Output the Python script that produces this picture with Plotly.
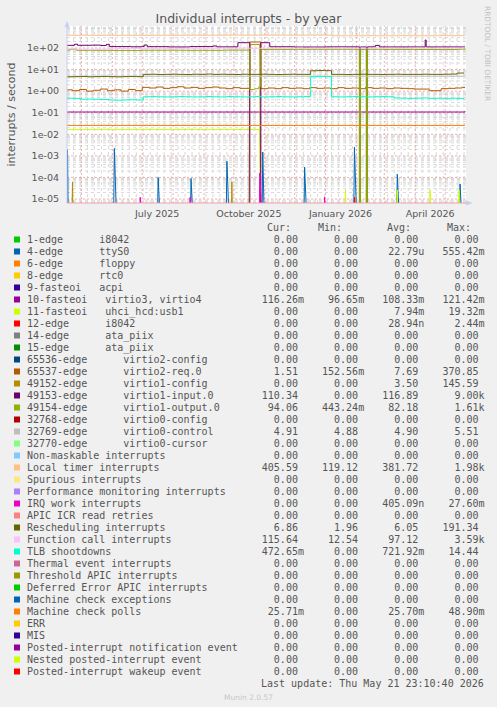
import pandas as pd
import plotly.graph_objects as go

# ---------------- legend table ----------------
LABELS = [
    "1-edge      i8042", "4-edge      ttyS0", "6-edge      floppy", "8-edge      rtc0",
    "9-fasteoi   acpi", "10-fasteoi   virtio3, virtio4", "11-fasteoi   uhci_hcd:usb1",
    "12-edge      i8042", "14-edge      ata_piix", "15-edge      ata_piix",
    "65536-edge      virtio2-config", "65537-edge      virtio2-req.0",
    "49152-edge      virtio1-config", "49153-edge      virtio1-input.0",
    "49154-edge      virtio1-output.0", "32768-edge      virtio0-config",
    "32769-edge      virtio0-control", "32770-edge      virtio0-cursor",
    "Non-maskable interrupts", "Local timer interrupts", "Spurious interrupts",
    "Performance monitoring interrupts", "IRQ work interrupts", "APIC ICR read retries",
    "Rescheduling interrupts", "Function call interrupts", "TLB shootdowns",
    "Thermal event interrupts", "Threshold APIC interrupts", "Deferred Error APIC interrupts",
    "Machine check exceptions", "Machine check polls", "ERR", "MIS",
    "Posted-interrupt notification event", "Nested posted-interrupt event",
    "Posted-interrupt wakeup event",
]
COLORS = [
    "#00CC00", "#0066B3", "#FF8000", "#FFCC00", "#330099", "#990099", "#CCFF00", "#FF0000",
    "#808080", "#008F00", "#00487D", "#B35A00", "#B38F00", "#6B006B", "#8FB300", "#B30000",
    "#BEBEBE", "#80FF80", "#80C9FF", "#FFC080", "#FFE680", "#AA80FF", "#EE00CC", "#FF8080",
    "#666600", "#FFBFFF", "#00FFCC", "#CC6699", "#999900", "#00CC00", "#0066B3", "#FF8000",
    "#FFCC00", "#330099", "#990099", "#CCFF00", "#FF0000",
]
Z = "0.00"
CUR = [Z, Z, Z, Z, Z, "116.26m", Z, Z, Z, Z, Z, "1.51", Z, "110.34", "94.06", Z, "4.91", Z,
       Z, "405.59", Z, Z, Z, Z, "6.86", "115.64", "472.65m", Z, Z, Z, Z, "25.71m", Z, Z, Z, Z, Z]
MINV = [Z, Z, Z, Z, Z, "96.65m", Z, Z, Z, Z, Z, "152.56m", Z, Z, "443.24m", Z, "4.88", Z,
        Z, "119.12", Z, Z, Z, Z, "1.96", "12.54", Z, Z, Z, Z, Z, Z, Z, Z, Z, Z, Z]
AVG = [Z, "22.79u", Z, Z, Z, "108.33m", "7.94m", "28.94n", Z, Z, Z, "7.69", "3.50", "116.89",
       "82.18", Z, "4.90", Z, Z, "381.72", Z, Z, "405.09n", Z, "6.05", "97.12", "721.92m",
       Z, Z, Z, Z, "25.70m", Z, Z, Z, Z, Z]
MAXV = [Z, "555.42m", Z, Z, Z, "121.42m", "19.32m", "2.44m", Z, Z, Z, "370.85", "145.59",
        "9.00k", "1.61k", Z, "5.51", Z, Z, "1.98k", Z, Z, "27.60m", Z, "191.34", "3.59k",
        "14.44", Z, Z, Z, Z, "48.90m", Z, Z, Z, Z, Z]

# ---------------- axes ----------------
X_START = "2025-04-16 12:00"
X_END = "2026-05-21 23:10"
X_LABEL_POS = ["2025-07-16", "2025-10-16", "2026-01-16", "2026-04-16"]
X_LABEL_TEXT = ["July 2025", "October 2025", "January 2026", "April 2026"]
Y_TICKS = [1e-5, 1e-4, 1e-3, 1e-2, 1e-1, 1e0, 1e1, 1e2]
Y_TEXT = ["1e-05", "1e-04", "1e-03", "1e-02", "1e-01", "1e+00", "1e+01", "1e+02"]
Y_LOG_RANGE = [-5.185, 3.02]

# ---------------- series (weekly samples) ----------------
WEEKS = pd.date_range("2025-04-16", periods=58, freq="7D")
LOCAL_TIMER = [392, 388, 395, 390, 386, 391, 389, 387, 393, 390,
               388, 385, 391, 389, 393, 387, 390, 392, 395, 389,
               391, 394, 396, 398, 399, 396, 398, 395, 399, 397,
               400, 398, 396, 399, 397, 398, 400, 396, 372, 368,
               370, 366, 369, 372, 368, 371, 367, 370, 373, 369,
               366, 370, 368, 371, 374, 369, 372, 405]
FUNCTION_CALL = [92, 90, 86, 84, 85, 88, 92, 95, 94, 96,
                 95, 97, 96, 98, 95, 97, 96, 98, 97, 96,
                 98, 97, 99, 98, 97, 100, 98, 97, 99, 98,
                 97, 99, 98, 100, 97, 99, 98, 97, 99, 100,
                 98, 97, 99, 98, 100, 97, 99, 98, 97, 99,
                 100, 98, 97, 99, 98, 100, 99, 116]
RESCHED = [4.6, 4.7, 4.8, 4.6, 4.7, 4.8, 4.7, 4.6, 4.7, 4.8,
           4.7, 6.0, 6.1, 5.9, 6.0, 6.1, 6.0, 5.9, 6.1, 6.0,
           6.2, 6.0, 6.1, 6.0, 5.9, 6.1, 6.0, 6.0, 6.1, 6.0,
           5.9, 6.0, 6.1, 6.0, 6.0, 8.8, 9.0, 8.9, 6.0, 6.0,
           5.9, 6.0, 6.1, 6.0, 6.0, 5.9, 6.0, 6.1, 6.0, 6.0,
           6.0, 6.1, 6.0, 6.0, 6.1, 6.2, 6.9, 6.9]
TLB = [0.47, 0.46, 0.42, 0.43, 0.42, 0.41, 0.39, 0.38, 0.39, 0.40,
       0.39, 0.55, 0.56, 0.55, 0.54, 0.55, 0.56, 0.55, 0.54, 0.55,
       0.56, 0.55, 0.54, 0.56, 0.55, 0.54, 0.55, 0.56, 0.54, 0.55,
       0.56, 0.55, 0.54, 0.55, 0.56, 4.6, 4.8, 4.7, 0.55, 0.54,
       0.55, 0.56, 0.55, 0.54, 0.55, 0.56, 0.55, 0.48, 0.47, 0.46,
       0.47, 0.48, 0.46, 0.47, 0.45, 0.47, 0.46, 0.47]

# ---------------- series (explicit breakpoints) ----------------
VIRTIO3_DATES = ["2025-04-16", "2025-11-01", "2026-05-21"]
VIRTIO3_VALUES = [0.108, 0.108, 0.116]

VIRTIO0_CTRL_DATES = ["2025-04-16", "2026-05-21"]
VIRTIO0_CTRL_VALUES = [4.90, 4.91]

MCE_POLL_DATES = ["2025-04-16", "2026-05-21"]
MCE_POLL_VALUES = [0.0257, 0.0257]

V1_INPUT_DATES = ["2025-04-16", "2025-04-24", "2025-04-27", "2025-05-12", "2025-05-20",
                  "2025-05-26", "2025-05-29", "2025-06-20", "2025-07-01", "2025-07-03",
                  "2025-07-06", "2025-07-28", "2025-08-18", "2025-09-10", "2025-09-14",
                  "2025-10-05", "2025-10-17", "2025-10-28", "2025-11-06", "2025-11-30",
                  "2026-01-02", "2026-02-04", "2026-02-05", "2026-02-11", "2026-02-12",
                  "2026-02-20", "2026-02-24", "2026-04-10", "2026-04-11", "2026-04-12",
                  "2026-05-21"]
V1_INPUT_VALUES = [133, 150, 134, 136, 131,
                   148, 116, 114, 118, 138,
                   115, 112, 116, 124, 113,
                   176, 0, 176, 114, 111,
                   113, 0, 112, 0, 113,
                   132, 112, 111, 235, 112,
                   110]

V1_OUTPUT_DATES = ["2025-04-16", "2025-04-20", "2025-04-26", "2025-06-01", "2025-07-01",
                   "2025-08-15", "2025-09-20", "2025-10-17", "2025-10-22", "2025-10-26",
                   "2025-10-28", "2025-12-01", "2026-02-04", "2026-02-05", "2026-02-11",
                   "2026-02-12", "2026-03-01", "2026-04-01", "2026-05-14", "2026-05-21"]
V1_OUTPUT_VALUES = [80, 88, 78, 77, 79,
                    78, 80, 1.2, 1.3, 1.6,
                    86, 87, 0, 86, 0,
                    87, 86, 85, 88, 94]

V2_REQ_DATES = ["2025-04-16", "2025-04-22", "2025-04-29", "2025-05-06", "2025-05-13",
                "2025-05-20", "2025-05-27", "2025-06-03", "2025-06-10", "2025-06-17",
                "2025-06-24", "2025-07-01", "2025-07-08", "2025-07-15", "2025-07-22",
                "2025-07-29", "2025-08-05", "2025-08-12", "2025-08-19", "2025-08-26",
                "2025-09-02", "2025-09-09", "2025-09-16", "2025-09-23", "2025-09-30",
                "2025-10-07", "2025-10-17", "2025-10-28", "2025-11-04", "2025-11-11",
                "2025-11-18", "2025-11-25", "2025-12-02", "2025-12-09", "2025-12-16",
                "2025-12-23", "2025-12-30", "2026-01-06", "2026-01-13", "2026-01-20",
                "2026-01-27", "2026-02-03", "2026-02-10", "2026-02-17", "2026-02-24",
                "2026-03-03", "2026-03-10", "2026-03-17", "2026-03-24", "2026-03-31",
                "2026-04-15", "2026-04-27", "2026-05-04", "2026-05-11", "2026-05-18",
                "2026-05-21"]
V2_REQ_VALUES = [1.15, 1.05, 1.2, 1.0, 1.1,
                 1.25, 1.05, 1.15, 1.0, 1.2,
                 1.05, 1.5, 1.4, 1.55, 1.35,
                 1.45, 1.6, 1.4, 1.5, 1.35,
                 1.45, 1.55, 1.4, 1.3, 1.45,
                 1.35, 190, 1.3, 1.4, 1.3,
                 1.45, 1.35, 1.4, 1.3, 1.45,
                 1.35, 1.4, 1.3, 1.45, 1.35,
                 1.4, 1.3, 1.45, 1.35, 1.4,
                 1.3, 1.4, 1.35, 1.3, 1.25,
                 1.05, 1.3, 1.35, 1.4, 1.5,
                 1.51]

V1_CONFIG_DATES = ["2025-04-16", "2025-04-21", "2025-04-22", "2025-04-23", "2025-09-28",
                   "2025-09-29", "2025-09-30", "2025-10-16", "2025-10-17", "2025-10-22",
                   "2025-10-27", "2025-10-28", "2026-05-21"]
V1_CONFIG_VALUES = [0, 0, 6.3e-5, 0, 0,
                    6.3e-5, 0, 0, 140, 148,
                    145, 0, 0]

UHCI_DATES = ["2025-04-16", "2025-07-01", "2025-10-27", "2025-10-28", "2026-01-20",
              "2026-01-21", "2026-01-22", "2026-02-10", "2026-02-11", "2026-02-12",
              "2026-03-13", "2026-03-14", "2026-03-15", "2026-04-15", "2026-04-16",
              "2026-04-17", "2026-05-14", "2026-05-15", "2026-05-16", "2026-05-21"]
UHCI_VALUES = [0.0165, 0.0168, 0.0166, 0, 0,
               2.6e-5, 0, 0, 2.6e-5, 0,
               0, 2.6e-5, 0, 0, 2.6e-5,
               0, 0, 2.6e-5, 0, 0]

# single-day spikes (all other days are 0)
TTYS0_DAYS = ["2025-04-17", "2025-06-03", "2025-07-17", "2025-08-19", "2025-09-24",
              "2025-10-30", "2025-12-11", "2026-01-30", "2026-03-14", "2026-05-16"]
TTYS0_PEAKS = [1.9e-3, 2.2e-3, 1.0e-4, 9e-5, 5.7e-4, 1.5e-3, 3e-4, 2.5e-3, 1.4e-4, 5e-5]
IRQWORK_DAYS = ["2025-06-29", "2025-08-18", "2025-10-27", "2025-12-31"]
IRQWORK_PEAKS = [1.2e-5, 1.2e-5, 1.6e-4, 1.2e-5]
I8042_DAYS = ["2026-01-30"]
I8042_PEAKS = [1.2e-5]

FLOOR = 1e-7  # zero values are drawn below the log axis (clipped), like rrdtool


def daily(days, peaks):
    idx = pd.date_range("2025-04-16", "2026-05-21", freq="D")
    s = pd.Series(0.0, index=idx)
    for d, p in zip(days, peaks):
        s[pd.Timestamp(d)] = p
    return list(s.index), list(s.values)


def disp(vals):
    return [v if v > 0 else FLOOR for v in vals]


# (legend index, x, y, shape) in legend (drawing) order
series = [
    (1,) + tuple(daily(TTYS0_DAYS, TTYS0_PEAKS)) + ("linear",),
    (5, VIRTIO3_DATES, VIRTIO3_VALUES, "hv"),
    (6, UHCI_DATES, UHCI_VALUES, "linear"),
    (7,) + tuple(daily(I8042_DAYS, I8042_PEAKS)) + ("linear",),
    (11, V2_REQ_DATES, V2_REQ_VALUES, "hv"),
    (12, V1_CONFIG_DATES, V1_CONFIG_VALUES, "linear"),
    (13, V1_INPUT_DATES, V1_INPUT_VALUES, "hv"),
    (14, V1_OUTPUT_DATES, V1_OUTPUT_VALUES, "hv"),
    (16, VIRTIO0_CTRL_DATES, VIRTIO0_CTRL_VALUES, "hv"),
    (19, list(WEEKS), LOCAL_TIMER, "hv"),
    (22,) + tuple(daily(IRQWORK_DAYS, IRQWORK_PEAKS)) + ("linear",),
    (24, list(WEEKS), RESCHED, "hv"),
    (25, list(WEEKS), FUNCTION_CALL, "hv"),
    (26, list(WEEKS), TLB, "hv"),
    (31, MCE_POLL_DATES, MCE_POLL_VALUES, "hv"),
]

fig = go.Figure()
for i, xs, ys, shape in series:
    fig.add_trace(go.Scatter(
        x=xs, y=disp(ys), mode="lines", name=LABELS[i],
        line=dict(color=COLORS[i], width=1, shape=shape),
        showlegend=False, hoverinfo="skip"))

# ---------------- layout geometry (pixels) ----------------
W, H = 497, 707
PL, PR, PT, PB = 67, 466, 26, 203


def px(x):
    return (x - PL) / (PR - PL)


def py(y):
    return (PB - y) / (PB - PT)


TXT = "#555555"
MINOR_GRID = "#D9D9D9"
MAJOR_GRID = "#F2AFAF"
BG = "#F0F0F0"
annotations = []
shapes = []

# ---- grid (rrdtool style) as background lines ----
for d in pd.date_range("2025-04-16", "2026-05-21", freq="7D"):
    shapes.append(dict(type="line", xref="x", yref="paper", x0=d, x1=d, y0=0, y1=1,
                       line=dict(color=MINOR_GRID, width=1, dash="dot"), layer="below"))
for k in range(-6, 3):
    for m in range(2, 10):
        v = m * 10.0 ** k
        if 10 ** Y_LOG_RANGE[0] < v < 10 ** Y_LOG_RANGE[1]:
            shapes.append(dict(type="line", xref="paper", yref="y", x0=0, x1=1, y0=v, y1=v,
                               line=dict(color=MINOR_GRID, width=1, dash="dot"), layer="below"))
for d in pd.date_range("2025-05-01", "2026-05-21", freq="MS"):
    shapes.append(dict(type="line", xref="x", yref="paper", x0=d, x1=d, y0=0, y1=1,
                       line=dict(color=MAJOR_GRID, width=1, dash="2px,2px"), layer="below"))
for v in Y_TICKS:
    shapes.append(dict(type="line", xref="paper", yref="y", x0=0, x1=1, y0=v, y1=v,
                       line=dict(color=MAJOR_GRID, width=1, dash="2px,2px"), layer="below"))

# keep the frame above / right of the canvas plain
shapes.append(dict(type="rect", xref="paper", yref="paper", x0=px(PL - 0.5), x1=px(W),
                   y0=py(PT - 0.5), y1=py(0), fillcolor=BG, line=dict(width=0), layer="above"))
shapes.append(dict(type="rect", xref="paper", yref="paper", x0=px(PR + 0.5), x1=px(W),
                   y0=py(PB), y1=py(0), fillcolor=BG, line=dict(width=0), layer="above"))

# ---- legend ----
NB = "\u00a0"


def field(s):
    s = s if s[-1].isalpha() else s + " "
    return s.rjust(10)


hdr = [("Cur:", 40), ("Min:", 48.5), ("Avg:", 60), ("Max:", 70)]
X0 = 26.2
for t, col in hdr:
    annotations.append(dict(text=t, x=px(X0 + 6 * col), y=py(227.5), xref="paper", yref="paper",
                            xanchor="left", yanchor="middle", showarrow=False, borderpad=0,
                            font=dict(family="DejaVu Sans Mono", size=10, color=TXT)))
for r, lab in enumerate(LABELS):
    yc = 239.5 + 12 * r
    row = lab.ljust(36) + field(CUR[r]) + field(MINV[r]) + field(AVG[r]) + field(MAXV[r])
    annotations.append(dict(text=row.replace(" ", NB), x=px(X0), y=py(yc), xref="paper", yref="paper",
                            xanchor="left", yanchor="middle", showarrow=False, borderpad=0,
                            font=dict(family="DejaVu Sans Mono", size=10, color=TXT)))
    shapes.append(dict(type="rect", xref="paper", yref="paper", x0=px(14), x1=px(20),
                       y0=py(yc + 3), y1=py(yc - 3), fillcolor=COLORS[r], line=dict(width=0),
                       layer="above"))
annotations.append(dict(text="Last update: Thu May 21 23:10:40 2026".replace(" ", NB),
                        x=px(X0 + 6 * 39), y=py(683.5), xref="paper", yref="paper",
                        xanchor="left", yanchor="middle", showarrow=False, borderpad=0,
                        font=dict(family="DejaVu Sans Mono", size=10, color=TXT)))
annotations.append(dict(text="Munin 2.0.57", x=px(248.5), y=py(697), xref="paper", yref="paper",
                        xanchor="center", yanchor="middle", showarrow=False,
                        font=dict(family="DejaVu Sans", size=7.5, color="#C8C8C8")))
annotations.append(dict(text="RRDTOOL / TOBI OETIKER", x=px(488), y=py(53), xref="paper",
                        yref="paper", xanchor="center", yanchor="middle", showarrow=False,
                        textangle=90, font=dict(family="DejaVu Sans", size=7.4, color="#C0C0C0")))
annotations.append(dict(text="interrupts / second", x=px(11), y=py(114.5), xref="paper",
                        yref="paper", xanchor="center", yanchor="middle", showarrow=False,
                        textangle=-90, font=dict(family="DejaVu Sans", size=11, color=TXT)))

# axis lines and arrows
AX = "#C8D0F0"
shapes.append(dict(type="line", xref="paper", yref="paper", x0=px(PL), x1=px(PL),
                   y0=py(PB), y1=py(PT - 1), line=dict(color=AX, width=1), layer="above"))
shapes.append(dict(type="line", xref="paper", yref="paper", x0=px(PL), x1=px(PR + 1),
                   y0=py(PB), y1=py(PB), line=dict(color="#F2A0A8", width=1), layer="above"))
shapes.append(dict(type="path", xref="paper", yref="paper",
                   path=f"M {px(64.5)},{py(27)} L {px(69.5)},{py(27)} L {px(67)},{py(21)} Z",
                   fillcolor=AX, line=dict(width=0), layer="above"))
shapes.append(dict(type="path", xref="paper", yref="paper",
                   path=f"M {px(466)},{py(200.5)} L {px(466)},{py(205.5)} L {px(473)},{py(203)} Z",
                   fillcolor=AX, line=dict(width=0), layer="above"))

fig.update_layout(
    width=W, height=H, autosize=False,
    margin=dict(l=PL, r=W - PR, t=PT, b=H - PB, pad=0, autoexpand=False),
    paper_bgcolor=BG, plot_bgcolor="#FFFFFF",
    font=dict(family="DejaVu Sans", color=TXT),
    title=dict(text="Individual interrupts - by year", x=0.5, xref="container", xanchor="center",
               y=1 - 19 / H, yref="container", yanchor="middle",
               font=dict(family="DejaVu Sans", size=12.5, color=TXT)),
    xaxis=dict(type="date", range=[X_START, X_END], tickmode="array", tickvals=X_LABEL_POS,
               ticktext=X_LABEL_TEXT, showgrid=False, ticks="", ticklabelstandoff=3,
               tickfont=dict(size=9.5, color=TXT), showline=False, zeroline=False),
    yaxis=dict(type="log", range=Y_LOG_RANGE, tickmode="array", tickvals=Y_TICKS,
               ticktext=Y_TEXT, showgrid=False, ticks="", ticklabelstandoff=7,
               tickfont=dict(size=9.5, color=TXT), showline=False, zeroline=False),
    annotations=annotations, shapes=shapes,
)

# the page body has a default 8px margin; remove it so the figure sits at the window origin
fig.write_html("out.html", config={"displayModeBar": False, "responsive": False},
               post_script="document.body.style.margin='0';")
